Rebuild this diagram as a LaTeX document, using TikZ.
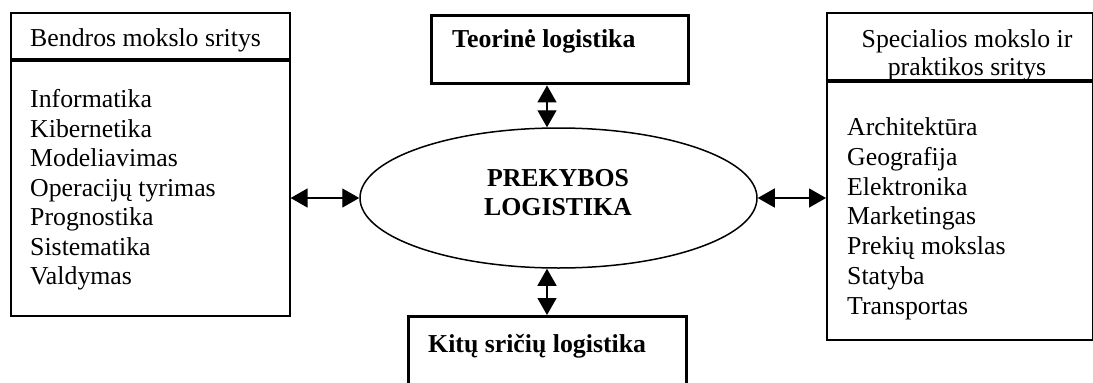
\documentclass[tikz,border=0pt]{standalone}
\usepackage{fontspec}
\setmainfont{Liberation Serif}
\usetikzlibrary{arrows.meta,shapes.geometric}
\begin{document}
\begin{tikzpicture}[x=1pt,y=-1pt,
  txt/.style={inner sep=0pt,font=\fontsize{25.8}{29.5}\selectfont},
  btxt/.style={txt,font=\fontsize{25.8}{29.5}\selectfont\bfseries},
  thinbox/.style={draw,line width=1.6pt,inner sep=0pt,anchor=north west},
  thickbox/.style={draw,line width=3.4pt,inner sep=0pt,anchor=north west},
  sep/.style={line width=4pt},
  dbl/.style={line width=1.4pt,{Triangle[length=17pt,width=19pt]}-{Triangle[length=17pt,width=19pt]}}]
\clip (0,0) rectangle (1093,383);
\useasboundingbox (0,0) rectangle (1093,383);
% left box
\node[thinbox,minimum width=279pt,minimum height=303pt] (L) at (10,12) {};
\draw[sep] (L.north west) ++(0,48) -- ++(279,0);
\node[txt,anchor=base west] (Lh) at (30,46.5) {Bendros mokslo sritys};
\foreach \t [count=\i from 0] in {Informatika,Kibernetika,Modeliavimas,Operacijų tyrimas,Prognostika,Sistematika,Valdymas}
  \node[txt,anchor=base west] (l\i) at (30,107.5+\i*29.5) {\t};
% right box
\node[thinbox,minimum width=266pt,minimum height=327pt] (R) at (826,12) {};
\draw[sep] (R.north west) ++(0,69) -- ++(266,0);
\node[txt,anchor=base] (Rh1) at (967,47) {Specialios mokslo ir};
\node[txt,anchor=base] (Rh2) at (967,75) {praktikos sritys};
\foreach \t [count=\i from 0] in {Architektūra,Geografija,Elektronika,Marketingas,Prekių mokslas,Statyba,Transportas}
  \node[txt,anchor=base west] (r\i) at (847,135.5+\i*29.8) {\t};
% top box
\node[thickbox,minimum width=257pt,minimum height=68pt] (T) at (430,14) {};
\node[btxt,anchor=base west] (Tt) at (452,47) {Teorinė logistika};
% bottom box
\node[thickbox,minimum width=278pt,minimum height=120pt] (K) at (407,315) {};
\node[btxt,anchor=base west] (Kt) at (428,352) {Kitų sričių logistika};
% ellipse
\node[draw,ellipse,line width=1.5pt,minimum width=397pt,minimum height=140pt,inner sep=0pt] (E) at (558.5,198) {};
\node[btxt,anchor=base] (E1) at (558,186) {PREKYBOS};
\node[btxt,anchor=base] (E2) at (558,215) {LOGISTIKA};
% connectors
\draw[dbl] (E.west) -- (E.west -| L.east);
\draw[dbl] (E.east) -- (E.east -| R.west);
\draw[dbl] ([xshift=-11.5pt]E.north) -- ([xshift=-11.5pt]E.north |- T.south);
\draw[dbl] ([xshift=-11.5pt]E.south) -- ([xshift=-11.5pt]E.south |- K.north);
\end{tikzpicture}
\end{document}
